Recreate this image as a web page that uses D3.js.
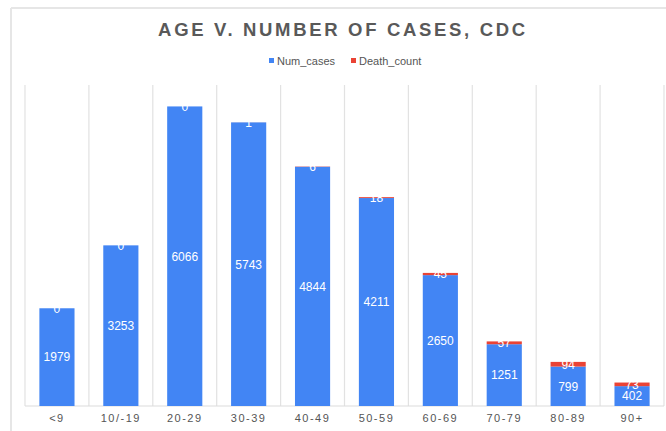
<!DOCTYPE html>
<html>
<head>
<meta charset="utf-8">
<script src="https://cdn.jsdelivr.net/npm/d3@7"></script>
<style>
  html, body { margin: 0; padding: 0; background: #ffffff; }
  svg { display: block; font-family: "Liberation Sans", Arial, sans-serif; }
</style>
</head>
<body>
<svg id="chart" width="666" height="431"></svg>
<script>
// Age groups and counts
const ageGroups = ["<9", "10/-19", "20-29", "30-39", "40-49", "50-59", "60-69", "70-79", "80-89", "90+"];
const numCases = [1979, 3253, 6066, 5743, 4844, 4211, 2650, 1251, 799, 402];
const deathCount = [0, 0, 0, 1, 6, 18, 45, 57, 94, 73];
const seriesNames = ["Num_cases", "Death_count"];
const seriesColors = ["#4285f4", "#ea4335"];
const yMax = 6500;

const svg = d3.select("#chart");
const W = 666, H = 431;
const plot = { left: 25, right: 664, top: 85, bottom: 406 };

// outer frame lines
svg.append("line").attr("x1", 11).attr("x2", W).attr("y1", 8).attr("y2", 8)
  .attr("stroke", "#e6e6e6").attr("stroke-width", 2);
svg.append("line").attr("x1", 11).attr("x2", 11).attr("y1", 8).attr("y2", H)
  .attr("stroke", "#e6e6e6").attr("stroke-width", 2);

const x = d3.scaleBand().domain(ageGroups).range([plot.left, plot.right]).padding(0);
const y = d3.scaleLinear().domain([0, yMax]).range([plot.bottom, plot.top]);

// vertical gridlines at category boundaries
const bounds = ageGroups.map(g => x(g)).concat([x(ageGroups[ageGroups.length - 1]) + x.bandwidth()]);
svg.append("g").selectAll("line").data(bounds).join("line")
  .attr("x1", d => d).attr("x2", d => d)
  .attr("y1", plot.top).attr("y2", plot.bottom)
  .attr("stroke", "#e2e2e2").attr("stroke-width", 1.2);

// baseline
svg.append("line").attr("x1", plot.left).attr("x2", plot.right)
  .attr("y1", plot.bottom).attr("y2", plot.bottom)
  .attr("stroke", "#dcdcdc").attr("stroke-width", 1.2);

// stacked data
const rows = ageGroups.map((g, i) => ({ group: g, Num_cases: numCases[i], Death_count: deathCount[i] }));
const stacked = d3.stack().keys(seriesNames)(rows);

const barW = x.bandwidth() * 0.55;
const barX = g => x(g) + (x.bandwidth() - barW) / 2;

const layers = svg.append("g").selectAll("g").data(stacked).join("g")
  .attr("fill", (d, i) => seriesColors[i]);

layers.selectAll("rect").data(d => d).join("rect")
  .attr("x", d => barX(d.data.group))
  .attr("width", barW)
  .attr("y", d => y(d[1]))
  .attr("height", d => y(d[0]) - y(d[1]));

// value labels, centred on each segment
const labels = svg.append("g").attr("fill", "#ffffff").attr("font-size", 12)
  .attr("text-anchor", "middle");
stacked.forEach(layer => {
  labels.selectAll(null).data(layer).join("text")
    .attr("x", d => barX(d.data.group) + barW / 2)
    .attr("y", d => (y(d[0]) + y(d[1])) / 2)
    .attr("dy", "0.36em")
    .text(d => d[1] - d[0]);
});

// category labels
svg.append("g").selectAll("text").data(ageGroups).join("text")
  .attr("x", d => x(d) + x.bandwidth() / 2)
  .attr("y", 422)
  .attr("text-anchor", "middle")
  .attr("font-size", 11)
  .attr("letter-spacing", "1.5px")
  .attr("fill", "#555555")
  .text(d => d);

// title
const title = svg.append("text")
  .attr("x", W / 2 + 10).attr("y", 36)
  .attr("text-anchor", "middle")
  .attr("font-size", 18.5).attr("font-weight", "bold")
  .attr("fill", "#595959")
  .text("AGE V. NUMBER OF CASES, CDC");
const tw = title.node().getComputedTextLength();
const titleStr = "AGE V. NUMBER OF CASES, CDC";
title.attr("letter-spacing", ((367 - tw) / (titleStr.length - 1)).toFixed(2) + "px");

// legend
const legend = svg.append("g").attr("font-size", 11).attr("fill", "#555555");
const legendX = [269, 351];
seriesNames.forEach((name, i) => {
  legend.append("rect").attr("x", legendX[i]).attr("y", 58).attr("width", 5).attr("height", 5)
    .attr("fill", seriesColors[i]);
  legend.append("text").attr("x", legendX[i] + 8).attr("y", 65).text(name);
});
</script>
</body>
</html>
